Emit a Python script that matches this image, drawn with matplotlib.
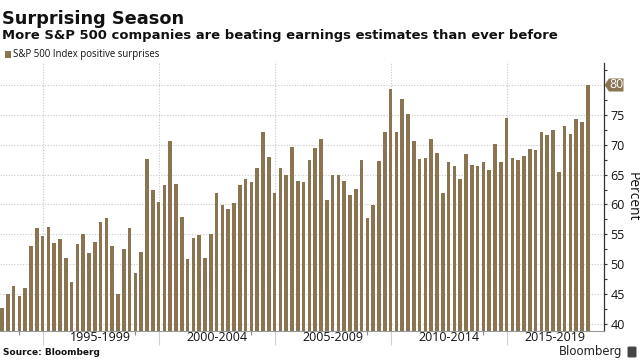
import matplotlib
matplotlib.use("Agg")
import matplotlib.pyplot as plt
import numpy as np
import pandas as pd
from matplotlib.patches import Polygon, Rectangle, FancyBboxPatch
from matplotlib.transforms import IdentityTransform
from matplotlib.ticker import FixedLocator

# ---------------- data ----------------
start_quarter = "1993Q2"
values = [
    42.6, 45.1, 46.4, 44.7, 46.1, 53.0, 56.0, 54.8, 56.2, 53.5,
    54.2, 51.0, 47.1, 53.4, 55.0, 51.9, 53.8, 57.0, 57.8, 53.1,
    45.1, 52.6, 56.1, 48.5, 52.1, 67.6, 62.5, 60.4, 63.3, 70.6,
    63.4, 57.9, 50.9, 54.4, 54.9, 51.0, 55.0, 61.9, 59.9, 59.2,
    60.2, 63.2, 64.2, 63.8, 66.1, 72.2, 68.0, 62.0, 66.1, 65.0,
    69.7, 64.0, 63.7, 67.4, 69.5, 70.9, 60.7, 64.9, 65.0, 64.0,
    61.6, 62.6, 67.4, 57.8, 59.9, 67.3, 72.2, 79.4, 72.1, 77.6,
    75.2, 70.6, 67.6, 67.7, 71.0, 68.7, 61.9, 67.1, 66.4, 64.3,
    68.5, 66.6, 66.4, 67.1, 65.8, 70.2, 67.1, 74.4, 67.7, 67.5,
    68.1, 69.3, 69.2, 72.2, 71.7, 72.4, 65.5, 73.1, 71.8, 74.3,
    73.8, 80.0,
]
period_labels = ["1995-1999", "2000-2004", "2005-2009", "2010-2014", "2015-2019"]
y_ticks = [40, 45, 50, 55, 60, 65, 70, 75, 80]
series_name = "S&P 500 Index positive surprises"
title = "Surprising Season"
subtitle = "More S&P 500 companies are beating earnings estimates than ever before"
y_label = "Percent"
source = "Source: Bloomberg"

# ---------------- style ----------------
BAR = "#8b7452"
GRID = "#c9c9c9"
TXT = "#111111"
W, H = 640, 360

fig = plt.figure(figsize=(6.4, 3.6), dpi=100)
fig.patch.set_facecolor("white")
ax = fig.add_axes([0, (H - 330.5) / H, 604 / W, (330.5 - 63) / H])

quarters = pd.period_range(start_quarter, periods=len(values), freq="Q")
x = np.arange(len(values))
ax.bar(x, values, width=0.62, color=BAR, zorder=3, linewidth=0)

xmax = 103.79
ax.set_xlim(-0.345, xmax)
ax.set_ylim(38.91, 83.68)

# spines
for s in ("left", "top"):
    ax.spines[s].set_visible(False)
ax.spines["right"].set_color("#333333")
ax.spines["right"].set_linewidth(0.9)
ax.spines["bottom"].set_color("#9a9a9a")
ax.spines["bottom"].set_linewidth(0.8)

# y axis (right)
ax.yaxis.tick_right()
ax.set_yticks(y_ticks)
ax.set_yticklabels(["" if v == y_ticks[-1] else str(v) for v in y_ticks])
ax.yaxis.set_minor_locator(FixedLocator([v + 2.5 for v in y_ticks]))
ax.tick_params(axis="y", which="both", direction="out", length=2.5, width=0.8,
               color="#333333", pad=2, labelsize=9, labelcolor=TXT)
for lab in ax.get_yticklabels():
    lab.set_fontfamily("Open Sans")

# x axis: period boundaries
major_idx = [i for i, q in enumerate(quarters) if q.quarter == 1 and q.year % 5 == 0]
minor_idx = [i for i, q in enumerate(quarters) if q.quarter == 1 and q.year % 5 == 4]
ax.set_xticks(major_idx)
ax.set_xticklabels([])
ax.xaxis.set_minor_locator(FixedLocator(minor_idx))
ax.tick_params(axis="x", which="major", direction="out", length=10, width=0.8, color="#cfcfcf")
ax.tick_params(axis="x", which="minor", direction="out", length=3, width=0.8, color="#8a8a8a")

ax.grid(axis="y", which="major", linestyle=(0, (1, 1.5)), color=GRID, linewidth=0.8, zorder=1)
ax.grid(axis="x", which="major", linestyle=(0, (1, 1.5)), color=GRID, linewidth=0.8, zorder=1)

ax_h = 330.5 - 63
for k, lab in enumerate(period_labels):
    a = major_idx[k]
    b = min(a + 20, xmax)
    ax.text((a + b) / 2, -7.2 / ax_h, lab, transform=ax.get_xaxis_transform(),
            ha="center", va="center", fontsize=9, family="Open Sans", color=TXT)

renderer = fig.canvas.get_renderer()


def fit(t, target, vertical=False):
    bb = t.get_window_extent(renderer)
    size = bb.height if vertical else bb.width
    t.set_fontsize(t.get_fontsize() * target / size)


def fy(py):
    return (H - py) / H


# titles
t1 = fig.text(2 / W, fy(24), title, fontsize=13, weight="bold", family="DejaVu Sans",
              color=TXT, va="baseline", ha="left")
fit(t1, 181)
t2 = fig.text(2 / W, fy(39.5), subtitle, fontsize=9.5, weight="bold", family="DejaVu Sans",
              color=TXT, va="baseline", ha="left")
fit(t2, 557)

# legend
fig.add_artist(Rectangle((5 / W, fy(57.5)), 6 / W, 6 / H, transform=fig.transFigure,
                         facecolor=BAR, edgecolor="none"))
t3 = fig.text(13 / W, fy(54), series_name, fontsize=7.5, family="Open Sans", color=TXT,
              va="center", ha="left")
fit(t3, 145)

# y label
t4 = fig.text(632 / W, fy(197), y_label, fontsize=10, family="Open Sans", color=TXT,
              rotation=270, va="center", ha="center")
fit(t4, 49, vertical=True)

# source / brand
t5 = fig.text(3 / W, fy(352.7), source, fontsize=7, weight="bold", family="DejaVu Sans",
              color=TXT, va="center", ha="left")
fit(t5, 97)
t6 = fig.text(622 / W, fy(352), "Bloomberg", fontsize=9, family="DejaVu Sans",
              color="#222222", va="center", ha="right")
fit(t6, 63)
fig.add_artist(FancyBboxPatch((627.5 / W, fy(357.5)), 9 / W, 11 / H,
                              boxstyle="round,pad=0,rounding_size=0.003",
                              transform=fig.transFigure, facecolor="#444444", edgecolor="none"))

# last value tag on the right axis
last = values[-1]
ax0, ay0 = ax.get_yaxis_transform().transform((1, last))
ay0 = round(ay0)
pts = [(ax0 + 0.5, ay0), (ax0 + 5, ay0 + 6.5), (ax0 + 19.5, ay0 + 6.5),
       (ax0 + 19.5, ay0 - 6.5), (ax0 + 5, ay0 - 6.5)]
fig.add_artist(Polygon(pts, closed=True, transform=IdentityTransform(),
                       facecolor=BAR, edgecolor="none"))
fig.text(ax0 + 12.5, ay0, f"{last:.0f}", transform=IdentityTransform(), color="white",
         fontsize=9, family="Open Sans", va="center", ha="center")

fig.savefig("out.png", dpi=100)
